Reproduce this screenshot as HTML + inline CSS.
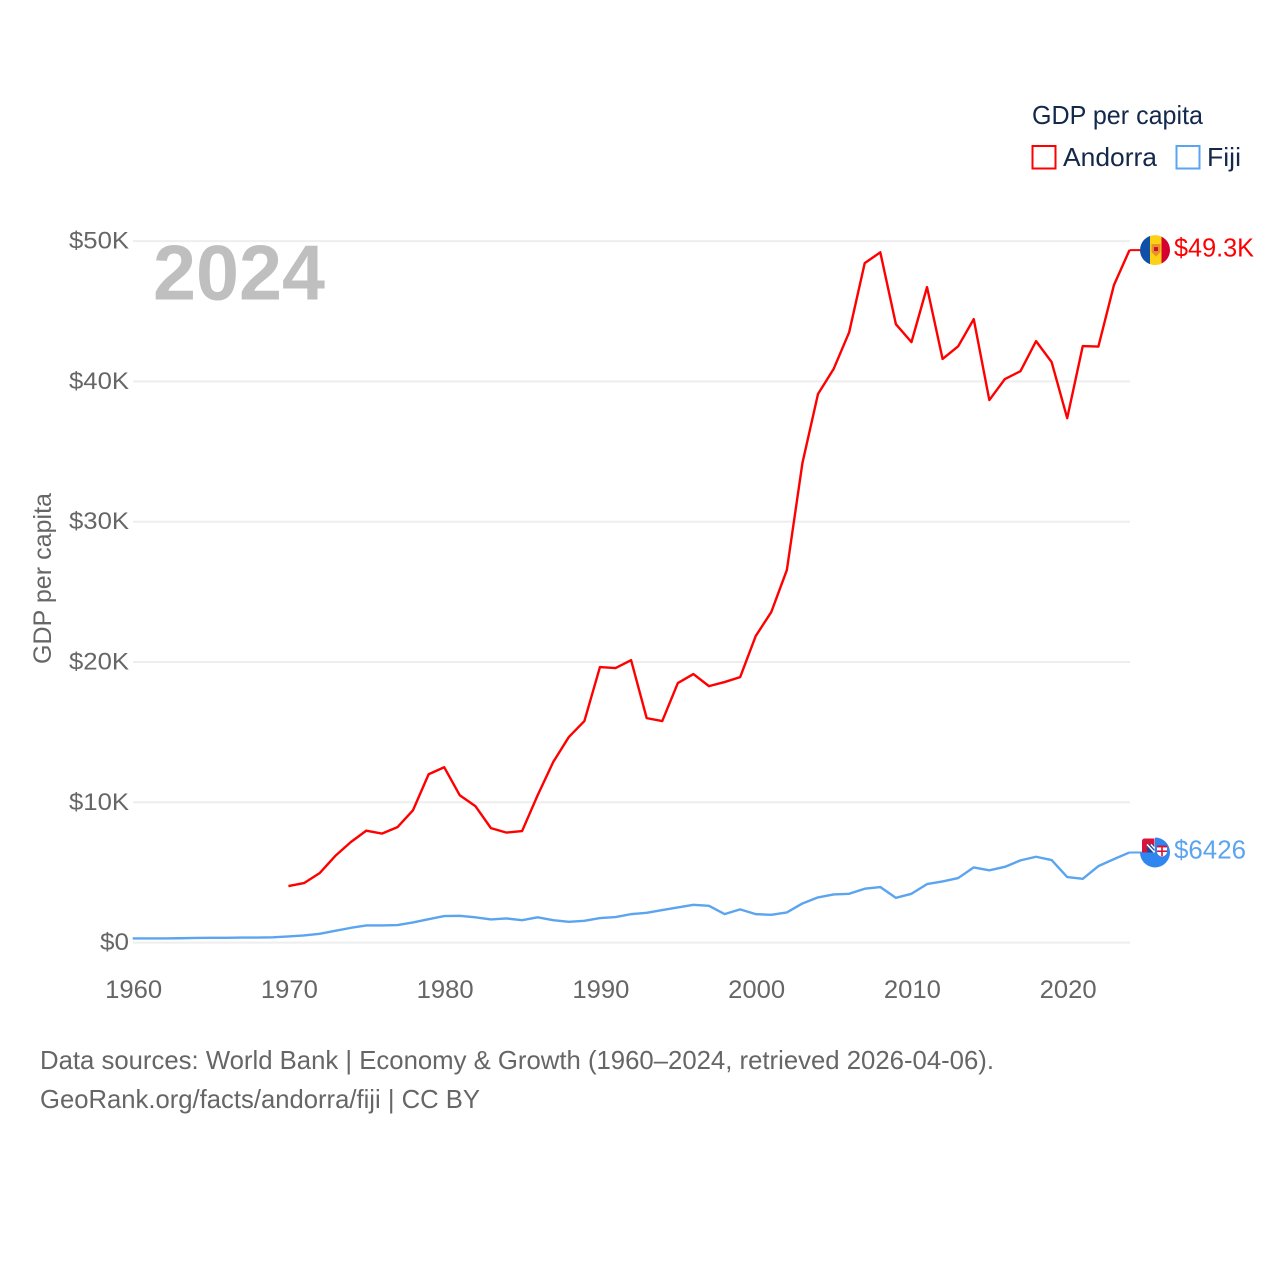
<!DOCTYPE html>
<html lang="en">
<head>
<meta charset="utf-8">
<title>GDP per capita: Andorra and Fiji</title>
<style>
html,body{margin:0;padding:0;background:#fff;}
svg{display:block;}
text{font-family:"Liberation Sans",sans-serif;}
</style>
</head>
<body>
<svg id="chart" xmlns="http://www.w3.org/2000/svg" width="1280" height="1280" viewBox="0 0 1280 1280">
  <rect width="1280" height="1280" fill="#fff"/>
  <g id="grid"></g>
  <text x="153" y="299.500" font-size="78" font-weight="700" fill="#bfbfbf" textLength="172" lengthAdjust="spacingAndGlyphs">2024</text>
  <g id="yticks"></g>
  <g id="xticks"></g>
  <text transform="translate(51,664) rotate(-90)" font-size="25" fill="#666" textLength="171" lengthAdjust="spacingAndGlyphs">GDP per capita</text>
  <g id="series"></g>

  <defs>
    <clipPath id="flag-clip-a"><circle cx="15" cy="15" r="15"/></clipPath>
  </defs>
  <g id="flag-andorra">
    <g clip-path="url(#flag-clip-a)">
      <rect x="0" y="0" width="10" height="30" fill="#0f4fa8"/>
      <rect x="10" y="0" width="11.500" height="30" fill="#fcd116"/>
      <rect x="21.500" y="0" width="8.500" height="30" fill="#d50032"/>
      <path d="M11.500 9h9v8l-4.500 4.500-4.500-4.500z" fill="#e8912a"/>
      <rect x="14" y="12" width="4" height="4" fill="#c8102e"/>
    </g>
  </g>
  <g id="flag-fiji">
    <path d="M15 0A15 15 0 1 1 0 15L15 15Z" fill="#2f86ee"/>
    <path d="M14.500 1H5Q2 1 2 4V15H14.500Z" fill="#d9143a"/>
    <rect x="7" y="7" width="7.500" height="8" fill="#1f4a9c"/>
    <path d="M7 7L14.500 15M11 7L14.500 11" stroke="#fff" stroke-width="1.500" fill="none"/>
    <path d="M17 8h10v6.500q0 3-5 5q-5-2-5-5z" fill="#fff"/>
    <rect x="17" y="8" width="10" height="2" fill="#d9143a"/>
    <rect x="21.200" y="10" width="1.600" height="9" fill="#d9143a"/>
    <rect x="17" y="13" width="10" height="1.600" fill="#d9143a"/>
  </g>

  <text id="label-andorra" x="1174" font-size="26" fill="#ff0000" textLength="80" lengthAdjust="spacingAndGlyphs"></text>
  <text id="label-fiji" x="1174" font-size="26" fill="#5ba4ef" textLength="72" lengthAdjust="spacingAndGlyphs"></text>

  <g>
    <text x="1032" y="124" font-size="26" fill="#14284b" textLength="171" lengthAdjust="spacingAndGlyphs">GDP per capita</text>
    <rect x="1032.500" y="146" width="23" height="22.500" fill="#fff" stroke="#ff0000" stroke-width="2"/>
    <text x="1063" y="166" font-size="26" fill="#14284b" textLength="94" lengthAdjust="spacingAndGlyphs">Andorra</text>
    <rect x="1176.500" y="146" width="23" height="22.500" fill="#fff" stroke="#5ba4ef" stroke-width="2"/>
    <text x="1207" y="166" font-size="26" fill="#14284b" textLength="34" lengthAdjust="spacingAndGlyphs">Fiji</text>
  </g>

  <text x="40" y="1069" font-size="26" fill="#666" textLength="954" lengthAdjust="spacingAndGlyphs">Data sources: World Bank | Economy &amp; Growth (1960–2024, retrieved 2026-04-06).</text>
  <a><text x="40" y="1108" font-size="26" fill="#666" textLength="440" lengthAdjust="spacingAndGlyphs">GeoRank.org/facts/andorra/fiji | CC BY</text></a>
</svg>

<script>
// Values in thousands of US dollars per capita
const startYear = 1960;
const andorraStartYear = 1970;
const andorraValues = [4.03,4.24,4.95,6.17,7.16,7.98,7.77,8.23,9.44,12.0,12.5,10.5,9.73,8.16,7.84,7.95,10.5,12.87,14.65,15.79,19.64,19.57,20.13,16.0,15.79,18.5,19.14,18.28,18.57,18.92,21.85,23.56,26.55,34.18,39.1,40.88,43.5,48.43,49.2,44.08,42.8,46.72,41.6,42.5,44.44,38.67,40.17,40.73,42.87,41.38,37.38,42.52,42.48,46.86,49.36];
const fijiValues = [0.3,0.3,0.3,0.31,0.33,0.34,0.34,0.36,0.36,0.38,0.44,0.51,0.63,0.84,1.05,1.22,1.22,1.25,1.44,1.67,1.89,1.91,1.8,1.65,1.72,1.6,1.8,1.6,1.48,1.55,1.75,1.82,2.03,2.12,2.32,2.51,2.69,2.62,2.03,2.37,2.03,1.98,2.15,2.79,3.22,3.43,3.48,3.84,3.96,3.19,3.48,4.17,4.36,4.6,5.36,5.15,5.4,5.86,6.12,5.88,4.67,4.55,5.45,5.95,6.426];
const yTickValues = [0,10,20,30,40,50];
const yTickLabels = ["$0","$10K","$20K","$30K","$40K","$50K"];
const xTickValues = [1960,1970,1980,1990,2000,2010,2020];
const andorraLabel = "$49.3K";
const fijiLabel = "$6426";

const NS = "http://www.w3.org/2000/svg";
function x(year){ return 132.7 + (year - 1960) * 15.575; }
function y(v){ return 942.6 - v * 14.03; }

function make(tag, attrs, parent){
  const el = document.createElementNS(NS, tag);
  Object.keys(attrs).forEach(function(k){ el.setAttribute(k, attrs[k]); });
  parent.appendChild(el);
  return el;
}

const gridG = document.getElementById("grid");
const yTickG = document.getElementById("yticks");
const xTickG = document.getElementById("xticks");
const seriesG = document.getElementById("series");

yTickValues.forEach(function(v, i){
  const line = make("line", {x1:133, x2:1130, y1:y(v), y2:y(v), stroke:"#eeeeee", "stroke-width":2}, gridG);
  
  
  const label = yTickLabels[i];
  const t = make("text", {x:129, y:y(v)+7.5, "font-size":24.5, fill:"#666", "text-anchor":"end", textLength: label.length === 2 ? 29 : 60, lengthAdjust:"spacingAndGlyphs"}, yTickG);
  t.textContent = label;
  
  
});

xTickValues.forEach(function(yr){
  const t = make("text", {x:x(yr)+0.9, y:998, "font-size":25, fill:"#666", "text-anchor":"middle", textLength:57, lengthAdjust:"spacingAndGlyphs"}, xTickG);
  t.textContent = String(yr);
  
  
});

function pathFor(values, firstYear){
  return values.map(function(v, i){
    return (i ? "L" : "M") + x(firstYear + i).toFixed(2) + " " + y(v).toFixed(2);
  }).join("");
}
const flagX = x(2024) + 25.5;

const fijiLine = make("path", {d:pathFor(fijiValues, startYear), fill:"none", stroke:"#5ba4ef", "stroke-width":2.4, "stroke-linejoin":"round"}, seriesG);


const andorraLine = make("path", {d:pathFor(andorraValues, andorraStartYear), fill:"none", stroke:"#ff0000", "stroke-width":2.4, "stroke-linejoin":"round"}, seriesG);



const lastA = andorraValues[andorraValues.length - 1];
const lastF = fijiValues[fijiValues.length - 1];
const connA = make("line", {x1:x(2024), x2:flagX, y1:y(lastA), y2:y(lastA), stroke:"#ff0000", "stroke-width":2}, seriesG);


const connF = make("line", {x1:x(2024), x2:flagX, y1:y(lastF), y2:y(lastF), stroke:"#5ba4ef", "stroke-width":2}, seriesG);



document.getElementById("flag-andorra").setAttribute("transform", "translate(" + (flagX - 15) + "," + (y(lastA) - 15) + ")");
document.getElementById("flag-fiji").setAttribute("transform", "translate(" + (flagX - 15) + "," + (y(lastF) - 15) + ")");

const labA = document.getElementById("label-andorra");
labA.textContent = andorraLabel;
labA.setAttribute("y", y(lastA) + 6.5);
const labF = document.getElementById("label-fiji");
labF.textContent = fijiLabel;
labF.setAttribute("y", y(lastF) + 6);
</script>
</body>
</html>
